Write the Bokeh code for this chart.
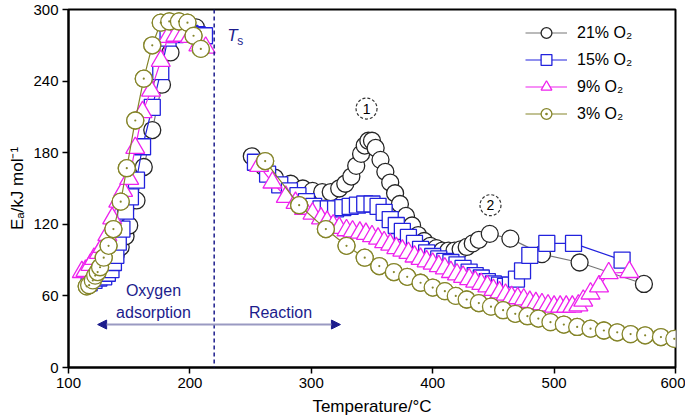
from bokeh.plotting import figure
from bokeh.models import Range1d, FixedTicker, Span, Label, Arrow, NormalHead, Legend, LegendItem
from bokeh.embed import file_html
from bokeh.resources import INLINE

# ---------------- data ----------------
# 21% O2
t21_ads = [118, 121, 124, 127, 131, 135, 139, 143, 147, 150, 156, 162, 169, 177, 184, 192, 199, 205, 210]
e21_ads = [72, 75, 78, 82, 86, 90, 95, 101, 110, 119, 140, 168, 199, 237, 264, 280, 286, 285, 277]
t21_rxn = [251, 261, 270, 283, 293, 301, 309, 316, 323, 328, 333, 337, 341, 344, 347, 350, 353, 357, 361, 365,
           369, 373, 378, 383, 388, 393, 398, 403, 408, 413, 418, 423, 428, 433, 438, 447, 464, 490, 521, 574]
e21_rxn = [177, 168, 159, 154, 150, 148, 147, 147, 150, 154, 160, 169, 179, 186, 190, 190, 184, 174, 164, 155,
           146, 137, 127, 119, 111, 106, 102, 100, 98, 98, 98, 99, 101, 104, 107, 112, 108, 95, 88, 70]

# 15% O2
t15_ads = [117, 121, 125, 129, 132, 135, 137, 139, 141, 144, 147, 151, 156, 161, 169, 176, 182, 188, 194, 200, 206, 212]
e15_ads = [71, 73, 75, 76, 79, 82, 88, 94, 105, 116, 131, 143, 157, 185, 218, 248, 276, 279, 280, 280, 279, 278]
t15_rxn = [254, 264, 274, 282, 289, 296, 302, 308, 314, 320, 326, 332, 338, 344, 350, 355, 360, 365, 370, 375,
           380, 385, 390, 395, 400, 405, 410, 415, 420, 425, 430, 435, 440, 445, 450, 455, 460, 464, 469, 474,
           480, 494, 516, 556]
e15_rxn = [172, 162, 153, 148, 144, 139, 135, 133, 133, 133, 134, 135, 136, 137, 137, 135, 130, 124, 119, 114,
           109, 104, 99, 96, 93, 91, 89, 88, 86, 83, 80, 77, 75, 72, 70, 69, 68, 69, 74, 81,
           94, 104, 104, 90]

# 9% O2
t9_ads = [111, 114, 118, 121, 125, 128, 132, 136, 141, 145, 150, 155, 161, 168, 176, 182, 188, 194, 200, 207, 213]
e9_ads = [80, 81, 86, 91, 96, 101, 111, 125, 139, 148, 158, 184, 214, 232, 257, 277, 278, 278, 277, 270, 268]
t9_rxn = [257, 268, 279, 287, 294, 301, 308, 313, 318, 323, 329, 334, 340, 345, 350, 355, 360, 365, 370, 375,
          380, 385, 390, 395, 400, 405, 410, 415, 420, 425, 430, 435, 440, 445, 450, 455, 460, 465, 470, 475,
          480, 485, 490, 495, 500, 505, 510, 515, 520, 524, 530, 537, 545, 562]
e9_rxn = [169, 155, 143, 138, 133, 129, 125, 122, 119, 117, 115, 114, 113, 112, 110, 108, 105, 103, 100, 98,
          96, 93, 91, 89, 87, 85, 83, 80, 78, 76, 74, 72, 70, 68, 65, 63, 61, 59, 58, 57,
          55, 54, 53, 52, 51, 51, 51, 51, 52, 56, 62, 68, 79, 80]

# 3% O2
t3_ads = [115, 117, 120, 122, 124, 126, 129, 133, 137, 143, 148, 155, 162, 169, 176, 183, 191, 198, 203, 209]
e3_ads = [68, 69, 73, 77, 80, 84, 92, 102, 116, 139, 167, 207, 242, 270, 289, 290, 290, 289, 278, 267]
t3_rxn = [262, 290, 312, 329, 344, 356, 368, 379, 390, 400, 410, 419, 428, 438, 448, 458, 468, 478, 487, 497,
          508, 519, 530, 541, 552, 563, 575, 588, 599]
e3_rxn = [173, 136, 116, 102, 92, 85, 80, 76, 71, 67, 64, 60, 57, 54, 51, 48, 45, 43, 41, 38,
          36, 34, 32.5, 31, 29.5, 28, 27, 25.5, 24]

series_labels = ["21% O\u2082", "15% O\u2082", "9% O\u2082", "3% O\u2082"]

x_ticks = [100, 200, 300, 400, 500, 600]
y_ticks = [0, 60, 120, 180, 240, 300]

ts_temp = 220
arrow_from, arrow_to, arrow_level = 124, 324, 36
note_x = [345.5, 447.6]
note_y = [217, 136]
note_text = ["1", "2"]

# ---------------- figure ----------------
FONT = "Liberation Sans"
NAVY = "#1c1c8c"

p = figure(width=685, height=420, x_range=Range1d(100, 600), y_range=Range1d(0, 300),
           output_backend="svg", toolbar_location=None,
           min_border_left=68, min_border_right=10, min_border_top=9, min_border_bottom=53)
p.xgrid.visible = False
p.ygrid.visible = False
p.outline_line_color = "black"
p.outline_line_width = 2
p.background_fill_color = "white"
p.border_fill_color = "white"

p.xaxis.ticker = FixedTicker(ticks=x_ticks)
p.yaxis.ticker = FixedTicker(ticks=y_ticks)
for ax in (p.xaxis[0], p.yaxis[0]):
    ax.axis_line_width = 2
    ax.axis_line_color = "black"
    ax.major_tick_line_width = 1.5
    ax.major_tick_line_color = "black"
    ax.major_tick_in = 0
    ax.major_tick_out = 6
    ax.minor_tick_line_color = None
    ax.major_label_text_font = FONT
    ax.major_label_text_font_size = "15px"
    ax.major_label_text_color = "black"
    ax.major_label_standoff = 4
    ax.axis_label_text_font = FONT
    ax.axis_label_text_font_size = "17px"
    ax.axis_label_text_font_style = "normal"
    ax.axis_label_text_color = "black"
p.xaxis.axis_label = "Temperature/\u00b0C"
p.xaxis.axis_label_standoff = 6
p.yaxis.axis_label = "E\u2090/kJ mol\u207b\u00b9"
p.yaxis.axis_label_standoff = 3

# Ts line
p.add_layout(Span(location=ts_temp, dimension="height", line_color=NAVY, line_dash="4 3", line_width=1.5))

# series
specs = [
    (t21_ads, e21_ads, t21_rxn, e21_rxn, "circle", "#262626", "#777777", 17),
    (t15_ads, e15_ads, t15_rxn, e15_rxn, "square", "#2222dd", "#2222dd", 16),
    (t9_ads, e9_ads, t9_rxn, e9_rxn, "triangle", "#ee22ee", "#ee22ee", 19),
    (t3_ads, e3_ads, t3_rxn, e3_rxn, "circle", "#85852a", "#85852a", 17),
]
items = []
for k, ((ta, ea, tr, er, mk, mcol, lcol, sz), lab) in enumerate(zip(specs, series_labels)):
    rends = []
    for tx, ey in ((ta, ea), (tr, er)):
        ln = p.line(tx, ey, line_color=lcol, line_width=1.2)
        leg = None
        if k == 3:
            # circle-with-dot glyph (hidden under the circles below, used for the legend)
            leg = p.scatter(tx, ey, marker="circle_dot", size=sz, line_color=mcol, line_width=1.3,
                            fill_color="white")
        sc = p.scatter(tx, ey, marker=mk, size=sz, line_color=mcol, line_width=1.3, fill_color="white")
        if k == 3:
            p.scatter(tx, ey, marker="circle", size=2.2, line_color=None, fill_color=mcol)
        rends.append([ln, leg if leg is not None else sc])
    items.append(LegendItem(label=lab, renderers=rends[1]))

legend = Legend(items=items, location=(457, 240), glyph_width=42, glyph_height=27, label_height=27,
                spacing=0, padding=0, margin=0, label_standoff=10,
                background_fill_alpha=0, border_line_color=None,
                label_text_font=FONT, label_text_font_size="16px", label_text_color="black")
p.add_layout(legend)

# arrow
p.add_layout(Arrow(x_start=arrow_from, y_start=arrow_level, x_end=arrow_to, y_end=arrow_level,
                   line_color="#9a9ac2", line_width=2,
                   start=NormalHead(size=9, fill_color=NAVY, line_color=NAVY),
                   end=NormalHead(size=9, fill_color=NAVY, line_color=NAVY)))

def lbl(x, y, t, size="16px", color=NAVY, style="normal", xo=0, yo=0, align="center"):
    p.add_layout(Label(x=x, y=y, text=t, x_offset=xo, y_offset=yo, text_font=FONT, text_font_size=size,
                       text_color=color, text_font_style=style, text_align=align, text_baseline="middle"))

lbl(170, 64.5, "Oxygen")
lbl(170, 46, "adsorption")
lbl(274.6, 46, "Reaction")
lbl(ts_temp, 278, "T", size="17px", style="italic", xo=13, align="left")
lbl(ts_temp, 278, "s", size="12px", xo=23, yo=-5, align="left")

# circled notes
p.scatter(note_x, note_y, marker="circle", size=21, fill_color=None, line_color="#333333",
          line_dash="3 2", line_width=1.2)
for nx, ny, nt in zip(note_x, note_y, note_text):
    lbl(nx, ny, nt, size="14px", color="black")

open("out.html", "w").write(file_html(p, INLINE))
